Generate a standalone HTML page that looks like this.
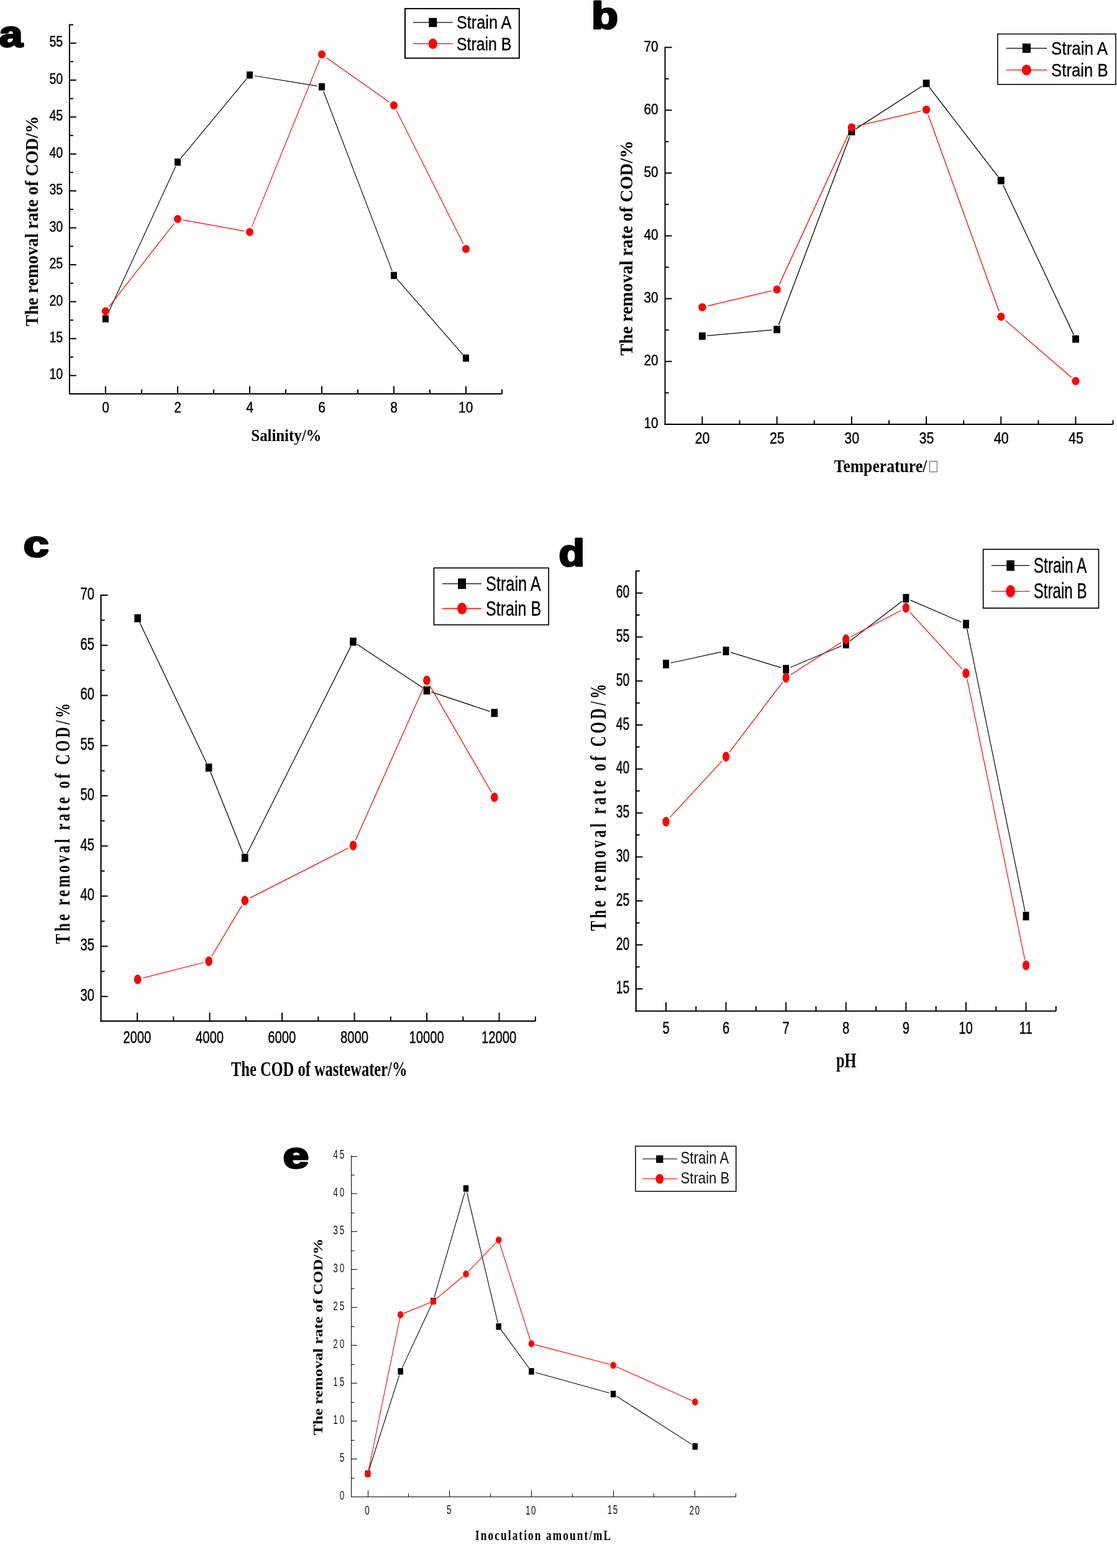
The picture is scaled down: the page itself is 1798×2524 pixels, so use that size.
<!DOCTYPE html>
<html><head><meta charset="utf-8"><title>COD removal rate figure</title><style>html,body{margin:0;padding:0;background:#fff}svg{display:block}</style></head>
<body><svg width="1798" height="2524" viewBox="0 0 1798 2524">
<rect width="1798" height="2524" fill="#fff"/>
<line x1="111.90" y1="39.00" x2="111.90" y2="635.00" stroke="#000" stroke-width="2"/>
<line x1="110.90" y1="634.00" x2="808.01" y2="634.00" stroke="#000" stroke-width="2"/>
<line x1="111.90" y1="604.50" x2="122.90" y2="604.50" stroke="#000" stroke-width="2"/>
<line x1="111.90" y1="545.06" x2="122.90" y2="545.06" stroke="#000" stroke-width="2"/>
<line x1="111.90" y1="485.61" x2="122.90" y2="485.61" stroke="#000" stroke-width="2"/>
<line x1="111.90" y1="426.17" x2="122.90" y2="426.17" stroke="#000" stroke-width="2"/>
<line x1="111.90" y1="366.72" x2="122.90" y2="366.72" stroke="#000" stroke-width="2"/>
<line x1="111.90" y1="307.28" x2="122.90" y2="307.28" stroke="#000" stroke-width="2"/>
<line x1="111.90" y1="247.83" x2="122.90" y2="247.83" stroke="#000" stroke-width="2"/>
<line x1="111.90" y1="188.39" x2="122.90" y2="188.39" stroke="#000" stroke-width="2"/>
<line x1="111.90" y1="128.94" x2="122.90" y2="128.94" stroke="#000" stroke-width="2"/>
<line x1="111.90" y1="69.50" x2="122.90" y2="69.50" stroke="#000" stroke-width="2"/>
<line x1="111.90" y1="574.78" x2="117.90" y2="574.78" stroke="#000" stroke-width="2"/>
<line x1="111.90" y1="515.33" x2="117.90" y2="515.33" stroke="#000" stroke-width="2"/>
<line x1="111.90" y1="455.89" x2="117.90" y2="455.89" stroke="#000" stroke-width="2"/>
<line x1="111.90" y1="396.44" x2="117.90" y2="396.44" stroke="#000" stroke-width="2"/>
<line x1="111.90" y1="337.00" x2="117.90" y2="337.00" stroke="#000" stroke-width="2"/>
<line x1="111.90" y1="277.56" x2="117.90" y2="277.56" stroke="#000" stroke-width="2"/>
<line x1="111.90" y1="218.11" x2="117.90" y2="218.11" stroke="#000" stroke-width="2"/>
<line x1="111.90" y1="158.67" x2="117.90" y2="158.67" stroke="#000" stroke-width="2"/>
<line x1="111.90" y1="99.22" x2="117.90" y2="99.22" stroke="#000" stroke-width="2"/>
<line x1="111.90" y1="39.78" x2="117.90" y2="39.78" stroke="#000" stroke-width="2"/>
<line x1="169.90" y1="634.00" x2="169.90" y2="621.70" stroke="#000" stroke-width="2"/>
<line x1="285.92" y1="634.00" x2="285.92" y2="621.70" stroke="#000" stroke-width="2"/>
<line x1="401.94" y1="634.00" x2="401.94" y2="621.70" stroke="#000" stroke-width="2"/>
<line x1="517.96" y1="634.00" x2="517.96" y2="621.70" stroke="#000" stroke-width="2"/>
<line x1="633.98" y1="634.00" x2="633.98" y2="621.70" stroke="#000" stroke-width="2"/>
<line x1="750.00" y1="634.00" x2="750.00" y2="621.70" stroke="#000" stroke-width="2"/>
<line x1="227.91" y1="634.00" x2="227.91" y2="627.00" stroke="#000" stroke-width="2"/>
<line x1="343.93" y1="634.00" x2="343.93" y2="627.00" stroke="#000" stroke-width="2"/>
<line x1="459.95" y1="634.00" x2="459.95" y2="627.00" stroke="#000" stroke-width="2"/>
<line x1="575.97" y1="634.00" x2="575.97" y2="627.00" stroke="#000" stroke-width="2"/>
<line x1="691.99" y1="634.00" x2="691.99" y2="627.00" stroke="#000" stroke-width="2"/>
<line x1="808.01" y1="634.00" x2="808.01" y2="627.00" stroke="#000" stroke-width="2"/>
<text transform="translate(79.43,610.46) scale(0.8185,1)" font-family='"Liberation Sans", Arial, Helvetica, sans-serif' font-weight="400" font-size="23.94" fill="#000" stroke="#000" stroke-width="0.45">10</text>
<text transform="translate(79.43,550.90) scale(0.8185,1)" font-family='"Liberation Sans", Arial, Helvetica, sans-serif' font-weight="400" font-size="23.94" fill="#000" stroke="#000" stroke-width="0.45">15</text>
<text transform="translate(79.43,491.57) scale(0.8185,1)" font-family='"Liberation Sans", Arial, Helvetica, sans-serif' font-weight="400" font-size="23.94" fill="#000" stroke="#000" stroke-width="0.45">20</text>
<text transform="translate(79.43,432.13) scale(0.8185,1)" font-family='"Liberation Sans", Arial, Helvetica, sans-serif' font-weight="400" font-size="23.94" fill="#000" stroke="#000" stroke-width="0.45">25</text>
<text transform="translate(79.43,372.68) scale(0.8185,1)" font-family='"Liberation Sans", Arial, Helvetica, sans-serif' font-weight="400" font-size="23.94" fill="#000" stroke="#000" stroke-width="0.45">30</text>
<text transform="translate(79.43,313.24) scale(0.8185,1)" font-family='"Liberation Sans", Arial, Helvetica, sans-serif' font-weight="400" font-size="23.94" fill="#000" stroke="#000" stroke-width="0.45">35</text>
<text transform="translate(79.43,253.79) scale(0.8185,1)" font-family='"Liberation Sans", Arial, Helvetica, sans-serif' font-weight="400" font-size="23.94" fill="#000" stroke="#000" stroke-width="0.45">40</text>
<text transform="translate(79.43,194.23) scale(0.8185,1)" font-family='"Liberation Sans", Arial, Helvetica, sans-serif' font-weight="400" font-size="23.94" fill="#000" stroke="#000" stroke-width="0.45">45</text>
<text transform="translate(79.43,134.91) scale(0.8185,1)" font-family='"Liberation Sans", Arial, Helvetica, sans-serif' font-weight="400" font-size="23.94" fill="#000" stroke="#000" stroke-width="0.45">50</text>
<text transform="translate(79.43,75.34) scale(0.8185,1)" font-family='"Liberation Sans", Arial, Helvetica, sans-serif' font-weight="400" font-size="23.94" fill="#000" stroke="#000" stroke-width="0.45">55</text>
<text transform="translate(164.17,664.27) scale(0.8914,1)" font-family='"Liberation Sans", Arial, Helvetica, sans-serif' font-weight="400" font-size="23.38" fill="#000" stroke="#000" stroke-width="0.45">0</text>
<text transform="translate(280.19,664.27) scale(0.8914,1)" font-family='"Liberation Sans", Arial, Helvetica, sans-serif' font-weight="400" font-size="23.38" fill="#000" stroke="#000" stroke-width="0.45">2</text>
<text transform="translate(396.26,664.03) scale(0.8914,1)" font-family='"Liberation Sans", Arial, Helvetica, sans-serif' font-weight="400" font-size="23.38" fill="#000" stroke="#000" stroke-width="0.45">4</text>
<text transform="translate(512.17,664.27) scale(0.8914,1)" font-family='"Liberation Sans", Arial, Helvetica, sans-serif' font-weight="400" font-size="23.38" fill="#000" stroke="#000" stroke-width="0.45">6</text>
<text transform="translate(628.19,664.27) scale(0.8914,1)" font-family='"Liberation Sans", Arial, Helvetica, sans-serif' font-weight="400" font-size="23.38" fill="#000" stroke="#000" stroke-width="0.45">8</text>
<text transform="translate(738.12,664.27) scale(0.8914,1)" font-family='"Liberation Sans", Arial, Helvetica, sans-serif' font-weight="400" font-size="23.38" fill="#000" stroke="#000" stroke-width="0.45">10</text>
<path d="M173.16,506.11L282.66,268.09M290.89,254.99L396.97,126.81M409.64,122.05L510.26,138.45M520.74,146.99L631.20,436.11M639.11,449.28L744.87,570.52" fill="none" stroke="#000" stroke-width="1.15"/>
<path d="M175.63,493.67L280.19,359.83M295.07,354.16L392.79,371.84M405.44,364.88L514.46,96.22M525.55,92.97L626.39,164.23M638.15,177.91L745.83,392.39" fill="none" stroke="#f00" stroke-width="1.15"/>
<rect x="164.90" y="507.45" width="10" height="11.5" fill="#000"/>
<rect x="280.92" y="255.25" width="10" height="11.5" fill="#000"/>
<rect x="396.94" y="115.05" width="10" height="11.5" fill="#000"/>
<rect x="512.96" y="133.95" width="10" height="11.5" fill="#000"/>
<rect x="628.98" y="437.65" width="10" height="11.5" fill="#000"/>
<rect x="745.00" y="570.65" width="10" height="11.5" fill="#000"/>
<ellipse cx="169.90" cy="501.00" rx="6.0" ry="6.5" fill="#f00"/>
<ellipse cx="285.92" cy="352.50" rx="6.0" ry="6.5" fill="#f00"/>
<ellipse cx="401.94" cy="373.50" rx="6.0" ry="6.5" fill="#f00"/>
<ellipse cx="517.96" cy="87.60" rx="6.0" ry="6.5" fill="#f00"/>
<ellipse cx="633.98" cy="169.60" rx="6.0" ry="6.5" fill="#f00"/>
<ellipse cx="750.00" cy="400.70" rx="6.0" ry="6.5" fill="#f00"/>
<rect x="652.00" y="13.90" width="183.80" height="79.70" fill="none" stroke="#000" stroke-width="2"/>
<line x1="665.00" y1="36.20" x2="728.70" y2="36.20" stroke="#000" stroke-width="1.3"/>
<rect x="690.30" y="28.90" width="13" height="14.6" fill="#000"/>
<text transform="translate(734.94,46.23) scale(0.8609,1)" font-family='"Liberation Sans", Arial, Helvetica, sans-serif' font-weight="400" font-size="29.37" fill="#000" stroke="#000" stroke-width="0.35">Strain A</text>
<line x1="665.00" y1="70.40" x2="728.70" y2="70.40" stroke="#f00" stroke-width="1.3"/>
<ellipse cx="696.80" cy="70.40" rx="7.1" ry="8.45" fill="#f00"/>
<text transform="translate(734.96,80.83) scale(0.8541,1)" font-family='"Liberation Sans", Arial, Helvetica, sans-serif' font-weight="400" font-size="29.08" fill="#000" stroke="#000" stroke-width="0.35">Strain B</text>
<text transform="translate(404.34,709.60) scale(0.8752,1)" font-family='"Liberation Serif", "Times New Roman", Times, serif' font-weight="700" font-size="28.35" fill="#000">Salinity/%</text>
<text transform="translate(60.90,525.32) rotate(-90) scale(0.9473,1)" font-family='"Liberation Serif", "Times New Roman", Times, serif' font-weight="700" font-size="29.31" fill="#000">The removal rate of COD/%</text>
<text transform="translate(-1.14,75.01) scale(1.1514,1)" font-family='"Liberation Sans", Arial, Helvetica, sans-serif' font-weight="700" font-size="59.09" fill="#000" stroke="#000" stroke-width="3.00" stroke-linejoin="round">a</text>
<line x1="1070.50" y1="75.30" x2="1070.50" y2="683.90" stroke="#000" stroke-width="2"/>
<line x1="1069.50" y1="682.90" x2="1791.61" y2="682.90" stroke="#000" stroke-width="2"/>
<line x1="1070.50" y1="682.90" x2="1081.50" y2="682.90" stroke="#000" stroke-width="2"/>
<line x1="1070.50" y1="581.80" x2="1081.50" y2="581.80" stroke="#000" stroke-width="2"/>
<line x1="1070.50" y1="480.70" x2="1081.50" y2="480.70" stroke="#000" stroke-width="2"/>
<line x1="1070.50" y1="379.60" x2="1081.50" y2="379.60" stroke="#000" stroke-width="2"/>
<line x1="1070.50" y1="278.50" x2="1081.50" y2="278.50" stroke="#000" stroke-width="2"/>
<line x1="1070.50" y1="177.40" x2="1081.50" y2="177.40" stroke="#000" stroke-width="2"/>
<line x1="1070.50" y1="76.30" x2="1081.50" y2="76.30" stroke="#000" stroke-width="2"/>
<line x1="1070.50" y1="632.35" x2="1076.50" y2="632.35" stroke="#000" stroke-width="2"/>
<line x1="1070.50" y1="531.25" x2="1076.50" y2="531.25" stroke="#000" stroke-width="2"/>
<line x1="1070.50" y1="430.15" x2="1076.50" y2="430.15" stroke="#000" stroke-width="2"/>
<line x1="1070.50" y1="329.05" x2="1076.50" y2="329.05" stroke="#000" stroke-width="2"/>
<line x1="1070.50" y1="227.95" x2="1076.50" y2="227.95" stroke="#000" stroke-width="2"/>
<line x1="1070.50" y1="126.85" x2="1076.50" y2="126.85" stroke="#000" stroke-width="2"/>
<line x1="1130.40" y1="682.90" x2="1130.40" y2="670.30" stroke="#000" stroke-width="2"/>
<line x1="1250.62" y1="682.90" x2="1250.62" y2="670.30" stroke="#000" stroke-width="2"/>
<line x1="1370.84" y1="682.90" x2="1370.84" y2="670.30" stroke="#000" stroke-width="2"/>
<line x1="1491.06" y1="682.90" x2="1491.06" y2="670.30" stroke="#000" stroke-width="2"/>
<line x1="1611.28" y1="682.90" x2="1611.28" y2="670.30" stroke="#000" stroke-width="2"/>
<line x1="1731.50" y1="682.90" x2="1731.50" y2="670.30" stroke="#000" stroke-width="2"/>
<line x1="1190.51" y1="682.90" x2="1190.51" y2="676.40" stroke="#000" stroke-width="2"/>
<line x1="1310.73" y1="682.90" x2="1310.73" y2="676.40" stroke="#000" stroke-width="2"/>
<line x1="1430.95" y1="682.90" x2="1430.95" y2="676.40" stroke="#000" stroke-width="2"/>
<line x1="1551.17" y1="682.90" x2="1551.17" y2="676.40" stroke="#000" stroke-width="2"/>
<line x1="1671.39" y1="682.90" x2="1671.39" y2="676.40" stroke="#000" stroke-width="2"/>
<line x1="1791.61" y1="682.90" x2="1791.61" y2="676.40" stroke="#000" stroke-width="2"/>
<text transform="translate(1036.54,689.35) scale(0.8489,1)" font-family='"Liberation Sans", Arial, Helvetica, sans-serif' font-weight="400" font-size="24.51" fill="#000" stroke="#000" stroke-width="0.45">10</text>
<text transform="translate(1036.54,588.25) scale(0.8489,1)" font-family='"Liberation Sans", Arial, Helvetica, sans-serif' font-weight="400" font-size="24.51" fill="#000" stroke="#000" stroke-width="0.45">20</text>
<text transform="translate(1036.54,487.15) scale(0.8489,1)" font-family='"Liberation Sans", Arial, Helvetica, sans-serif' font-weight="400" font-size="24.51" fill="#000" stroke="#000" stroke-width="0.45">30</text>
<text transform="translate(1036.54,386.05) scale(0.8489,1)" font-family='"Liberation Sans", Arial, Helvetica, sans-serif' font-weight="400" font-size="24.51" fill="#000" stroke="#000" stroke-width="0.45">40</text>
<text transform="translate(1036.54,284.95) scale(0.8489,1)" font-family='"Liberation Sans", Arial, Helvetica, sans-serif' font-weight="400" font-size="24.51" fill="#000" stroke="#000" stroke-width="0.45">50</text>
<text transform="translate(1036.54,183.85) scale(0.8489,1)" font-family='"Liberation Sans", Arial, Helvetica, sans-serif' font-weight="400" font-size="24.51" fill="#000" stroke="#000" stroke-width="0.45">60</text>
<text transform="translate(1036.54,82.75) scale(0.8489,1)" font-family='"Liberation Sans", Arial, Helvetica, sans-serif' font-weight="400" font-size="24.51" fill="#000" stroke="#000" stroke-width="0.45">70</text>
<text transform="translate(1118.73,714.45) scale(0.8573,1)" font-family='"Liberation Sans", Arial, Helvetica, sans-serif' font-weight="400" font-size="24.93" fill="#000" stroke="#000" stroke-width="0.45">20</text>
<text transform="translate(1238.95,714.45) scale(0.8573,1)" font-family='"Liberation Sans", Arial, Helvetica, sans-serif' font-weight="400" font-size="24.93" fill="#000" stroke="#000" stroke-width="0.45">25</text>
<text transform="translate(1359.28,714.45) scale(0.8573,1)" font-family='"Liberation Sans", Arial, Helvetica, sans-serif' font-weight="400" font-size="24.93" fill="#000" stroke="#000" stroke-width="0.45">30</text>
<text transform="translate(1479.50,714.45) scale(0.8573,1)" font-family='"Liberation Sans", Arial, Helvetica, sans-serif' font-weight="400" font-size="24.93" fill="#000" stroke="#000" stroke-width="0.45">35</text>
<text transform="translate(1599.88,714.45) scale(0.8573,1)" font-family='"Liberation Sans", Arial, Helvetica, sans-serif' font-weight="400" font-size="24.93" fill="#000" stroke="#000" stroke-width="0.45">40</text>
<text transform="translate(1720.10,714.20) scale(0.8573,1)" font-family='"Liberation Sans", Arial, Helvetica, sans-serif' font-weight="400" font-size="24.93" fill="#000" stroke="#000" stroke-width="0.45">45</text>
<path d="M1138.17,540.31L1242.85,531.09M1253.37,523.10L1368.09,219.20M1377.39,207.67L1484.51,138.43M1495.81,140.38L1606.53,284.42M1614.61,297.66L1728.17,538.64" fill="none" stroke="#000" stroke-width="1.3"/>
<path d="M1139.45,492.35L1241.57,468.15M1254.51,457.55L1366.95,213.45M1379.89,202.85L1482.01,178.65M1494.22,185.25L1608.12,501.05M1618.33,515.87L1724.45,607.33" fill="none" stroke="#f00" stroke-width="1.3"/>
<rect x="1124.95" y="535.05" width="10.9" height="11.9" fill="#000"/>
<rect x="1245.17" y="524.45" width="10.9" height="11.9" fill="#000"/>
<rect x="1365.39" y="205.95" width="10.9" height="11.9" fill="#000"/>
<rect x="1485.61" y="128.25" width="10.9" height="11.9" fill="#000"/>
<rect x="1605.83" y="284.65" width="10.9" height="11.9" fill="#000"/>
<rect x="1726.05" y="539.75" width="10.9" height="11.9" fill="#000"/>
<ellipse cx="1130.40" cy="494.50" rx="6.15" ry="6.6" fill="#f00"/>
<ellipse cx="1250.62" cy="466.00" rx="6.15" ry="6.6" fill="#f00"/>
<ellipse cx="1370.84" cy="205.00" rx="6.15" ry="6.6" fill="#f00"/>
<ellipse cx="1491.06" cy="176.50" rx="6.15" ry="6.6" fill="#f00"/>
<ellipse cx="1611.28" cy="509.80" rx="6.15" ry="6.6" fill="#f00"/>
<ellipse cx="1731.50" cy="613.40" rx="6.15" ry="6.6" fill="#f00"/>
<rect x="1605.90" y="54.70" width="190.10" height="81.20" fill="none" stroke="#000" stroke-width="1.6"/>
<line x1="1619.60" y1="77.60" x2="1685.40" y2="77.60" stroke="#000" stroke-width="1.3"/>
<rect x="1645.80" y="70.10" width="13.2" height="15" fill="#000"/>
<text transform="translate(1692.10,87.64) scale(0.8985,1)" font-family='"Liberation Sans", Arial, Helvetica, sans-serif' font-weight="400" font-size="28.94" fill="#000" stroke="#000" stroke-width="0.35">Strain A</text>
<line x1="1619.60" y1="112.60" x2="1685.40" y2="112.60" stroke="#f00" stroke-width="1.3"/>
<ellipse cx="1652.40" cy="112.60" rx="7.55" ry="8.65" fill="#f00"/>
<text transform="translate(1692.12,122.74) scale(0.8892,1)" font-family='"Liberation Sans", Arial, Helvetica, sans-serif' font-weight="400" font-size="28.94" fill="#000" stroke="#000" stroke-width="0.35">Strain B</text>
<text transform="translate(1342.62,760.11) scale(0.8501,1)" font-family='"Liberation Serif", "Times New Roman", Times, serif' font-weight="700" font-size="30.17" fill="#000">Temperature/</text>
<text transform="translate(1017.90,572.43) rotate(-90) scale(0.9341,1)" font-family='"Liberation Serif", "Times New Roman", Times, serif' font-weight="700" font-size="30.38" fill="#000">The removal rate of COD/%</text>
<text transform="translate(952.03,46.29) scale(1.1611,1)" font-family='"Liberation Sans", Arial, Helvetica, sans-serif' font-weight="700" font-size="60.54" fill="#000" stroke="#000" stroke-width="3.00" stroke-linejoin="round">b</text>
<line x1="162.50" y1="957.00" x2="162.50" y2="1644.80" stroke="#000" stroke-width="2.2"/>
<line x1="161.40" y1="1643.70" x2="861.86" y2="1643.70" stroke="#000" stroke-width="2.2"/>
<line x1="162.50" y1="1604.00" x2="173.50" y2="1604.00" stroke="#000" stroke-width="2"/>
<line x1="162.50" y1="1523.25" x2="173.50" y2="1523.25" stroke="#000" stroke-width="2"/>
<line x1="162.50" y1="1442.50" x2="173.50" y2="1442.50" stroke="#000" stroke-width="2"/>
<line x1="162.50" y1="1361.75" x2="173.50" y2="1361.75" stroke="#000" stroke-width="2"/>
<line x1="162.50" y1="1281.00" x2="173.50" y2="1281.00" stroke="#000" stroke-width="2"/>
<line x1="162.50" y1="1200.25" x2="173.50" y2="1200.25" stroke="#000" stroke-width="2"/>
<line x1="162.50" y1="1119.50" x2="173.50" y2="1119.50" stroke="#000" stroke-width="2"/>
<line x1="162.50" y1="1038.75" x2="173.50" y2="1038.75" stroke="#000" stroke-width="2"/>
<line x1="162.50" y1="958.00" x2="173.50" y2="958.00" stroke="#000" stroke-width="2"/>
<line x1="162.50" y1="1563.62" x2="168.50" y2="1563.62" stroke="#000" stroke-width="2"/>
<line x1="162.50" y1="1482.88" x2="168.50" y2="1482.88" stroke="#000" stroke-width="2"/>
<line x1="162.50" y1="1402.12" x2="168.50" y2="1402.12" stroke="#000" stroke-width="2"/>
<line x1="162.50" y1="1321.38" x2="168.50" y2="1321.38" stroke="#000" stroke-width="2"/>
<line x1="162.50" y1="1240.62" x2="168.50" y2="1240.62" stroke="#000" stroke-width="2"/>
<line x1="162.50" y1="1159.88" x2="168.50" y2="1159.88" stroke="#000" stroke-width="2"/>
<line x1="162.50" y1="1079.12" x2="168.50" y2="1079.12" stroke="#000" stroke-width="2"/>
<line x1="162.50" y1="998.38" x2="168.50" y2="998.38" stroke="#000" stroke-width="2"/>
<line x1="221.00" y1="1643.70" x2="221.00" y2="1630.00" stroke="#000" stroke-width="2"/>
<line x1="337.52" y1="1643.70" x2="337.52" y2="1630.00" stroke="#000" stroke-width="2"/>
<line x1="454.04" y1="1643.70" x2="454.04" y2="1630.00" stroke="#000" stroke-width="2"/>
<line x1="570.56" y1="1643.70" x2="570.56" y2="1630.00" stroke="#000" stroke-width="2"/>
<line x1="687.08" y1="1643.70" x2="687.08" y2="1630.00" stroke="#000" stroke-width="2"/>
<line x1="803.60" y1="1643.70" x2="803.60" y2="1630.00" stroke="#000" stroke-width="2"/>
<line x1="279.26" y1="1643.70" x2="279.26" y2="1636.20" stroke="#000" stroke-width="2"/>
<line x1="395.78" y1="1643.70" x2="395.78" y2="1636.20" stroke="#000" stroke-width="2"/>
<line x1="512.30" y1="1643.70" x2="512.30" y2="1636.20" stroke="#000" stroke-width="2"/>
<line x1="628.82" y1="1643.70" x2="628.82" y2="1636.20" stroke="#000" stroke-width="2"/>
<line x1="745.34" y1="1643.70" x2="745.34" y2="1636.20" stroke="#000" stroke-width="2"/>
<line x1="861.86" y1="1643.70" x2="861.86" y2="1636.20" stroke="#000" stroke-width="2"/>
<text transform="translate(129.18,1610.93) scale(0.7497,1)" font-family='"Liberation Sans", Arial, Helvetica, sans-serif' font-weight="400" font-size="27.32" fill="#000" stroke="#000" stroke-width="0.45">30</text>
<text transform="translate(129.18,1530.18) scale(0.7497,1)" font-family='"Liberation Sans", Arial, Helvetica, sans-serif' font-weight="400" font-size="27.32" fill="#000" stroke="#000" stroke-width="0.45">35</text>
<text transform="translate(129.18,1449.43) scale(0.7497,1)" font-family='"Liberation Sans", Arial, Helvetica, sans-serif' font-weight="400" font-size="27.32" fill="#000" stroke="#000" stroke-width="0.45">40</text>
<text transform="translate(129.18,1368.54) scale(0.7497,1)" font-family='"Liberation Sans", Arial, Helvetica, sans-serif' font-weight="400" font-size="27.32" fill="#000" stroke="#000" stroke-width="0.45">45</text>
<text transform="translate(129.18,1287.93) scale(0.7497,1)" font-family='"Liberation Sans", Arial, Helvetica, sans-serif' font-weight="400" font-size="27.32" fill="#000" stroke="#000" stroke-width="0.45">50</text>
<text transform="translate(129.18,1207.04) scale(0.7497,1)" font-family='"Liberation Sans", Arial, Helvetica, sans-serif' font-weight="400" font-size="27.32" fill="#000" stroke="#000" stroke-width="0.45">55</text>
<text transform="translate(129.18,1126.43) scale(0.7497,1)" font-family='"Liberation Sans", Arial, Helvetica, sans-serif' font-weight="400" font-size="27.32" fill="#000" stroke="#000" stroke-width="0.45">60</text>
<text transform="translate(129.18,1045.68) scale(0.7497,1)" font-family='"Liberation Sans", Arial, Helvetica, sans-serif' font-weight="400" font-size="27.32" fill="#000" stroke="#000" stroke-width="0.45">65</text>
<text transform="translate(129.18,964.93) scale(0.7497,1)" font-family='"Liberation Sans", Arial, Helvetica, sans-serif' font-weight="400" font-size="27.32" fill="#000" stroke="#000" stroke-width="0.45">70</text>
<text transform="translate(198.29,1679.23) scale(0.7367,1)" font-family='"Liberation Sans", Arial, Helvetica, sans-serif' font-weight="400" font-size="27.46" fill="#000" stroke="#000" stroke-width="0.45">2000</text>
<text transform="translate(315.06,1679.23) scale(0.7367,1)" font-family='"Liberation Sans", Arial, Helvetica, sans-serif' font-weight="400" font-size="27.46" fill="#000" stroke="#000" stroke-width="0.45">4000</text>
<text transform="translate(431.33,1679.23) scale(0.7367,1)" font-family='"Liberation Sans", Arial, Helvetica, sans-serif' font-weight="400" font-size="27.46" fill="#000" stroke="#000" stroke-width="0.45">6000</text>
<text transform="translate(547.90,1679.23) scale(0.7367,1)" font-family='"Liberation Sans", Arial, Helvetica, sans-serif' font-weight="400" font-size="27.46" fill="#000" stroke="#000" stroke-width="0.45">8000</text>
<text transform="translate(658.50,1679.23) scale(0.7367,1)" font-family='"Liberation Sans", Arial, Helvetica, sans-serif' font-weight="400" font-size="27.46" fill="#000" stroke="#000" stroke-width="0.45">10000</text>
<text transform="translate(775.02,1679.23) scale(0.7367,1)" font-family='"Liberation Sans", Arial, Helvetica, sans-serif' font-weight="400" font-size="27.46" fill="#000" stroke="#000" stroke-width="0.45">12000</text>
<path d="M224.94,1002.24L332.71,1228.66M338.96,1242.94L391.31,1373.66M397.70,1373.93L564.97,1039.87M574.97,1037.21L680.46,1107.09M694.36,1113.86L788.39,1145.14" fill="none" stroke="#000" stroke-width="1.25"/>
<path d="M230.59,1574.19L327.05,1549.51M340.82,1539.21L389.45,1457.59M402.50,1445.38L560.17,1365.22M572.25,1352.51L683.18,1103.59M691.62,1103.15L791.14,1275.35" fill="none" stroke="#f00" stroke-width="1.25"/>
<rect x="216.28" y="988.70" width="10.6" height="13" fill="#000"/>
<rect x="330.76" y="1229.20" width="10.6" height="13" fill="#000"/>
<rect x="388.91" y="1374.40" width="10.6" height="13" fill="#000"/>
<rect x="563.16" y="1026.40" width="10.6" height="13" fill="#000"/>
<rect x="681.66" y="1104.90" width="10.6" height="13" fill="#000"/>
<rect x="790.49" y="1141.10" width="10.6" height="13" fill="#000"/>
<ellipse cx="221.58" cy="1576.50" rx="5.8" ry="7.7" fill="#f00"/>
<ellipse cx="336.06" cy="1547.20" rx="5.8" ry="7.7" fill="#f00"/>
<ellipse cx="394.21" cy="1449.60" rx="5.8" ry="7.7" fill="#f00"/>
<ellipse cx="568.46" cy="1361.00" rx="5.8" ry="7.7" fill="#f00"/>
<ellipse cx="686.96" cy="1095.10" rx="5.8" ry="7.7" fill="#f00"/>
<ellipse cx="795.79" cy="1283.40" rx="5.8" ry="7.7" fill="#f00"/>
<rect x="698.45" y="914.25" width="184.70" height="91.50" fill="none" stroke="#000" stroke-width="1.7"/>
<line x1="711.90" y1="939.60" x2="775.20" y2="939.60" stroke="#000" stroke-width="1.3"/>
<rect x="737.15" y="931.15" width="12.9" height="16.9" fill="#000"/>
<text transform="translate(782.04,951.28) scale(0.7411,1)" font-family='"Liberation Sans", Arial, Helvetica, sans-serif' font-weight="400" font-size="34.15" fill="#000" stroke="#000" stroke-width="0.35">Strain A</text>
<line x1="711.90" y1="979.50" x2="775.20" y2="979.50" stroke="#f00" stroke-width="1.3"/>
<ellipse cx="743.60" cy="979.50" rx="7.55" ry="9.55" fill="#f00"/>
<text transform="translate(782.05,990.69) scale(0.7518,1)" font-family='"Liberation Sans", Arial, Helvetica, sans-serif' font-weight="400" font-size="33.31" fill="#000" stroke="#000" stroke-width="0.35">Strain B</text>
<text transform="translate(372.03,1731.71) scale(0.7432,1)" font-family='"Liberation Serif", "Times New Roman", Times, serif' font-weight="700" font-size="32.92" fill="#000">The COD of wastewater/%</text>
<text transform="translate(111.60,1519.16) rotate(-90) scale(0.6988,1)" font-family='"Liberation Serif", "Times New Roman", Times, serif' font-weight="700" font-size="34.05" fill="#000" letter-spacing="5.79">The removal rate of COD/%</text>
<text transform="translate(37.66,895.81) scale(1.2534,1)" font-family='"Liberation Sans", Arial, Helvetica, sans-serif' font-weight="700" font-size="58.73" fill="#000" stroke="#000" stroke-width="3.00" stroke-linejoin="round">c</text>
<line x1="1023.70" y1="918.50" x2="1023.70" y2="1628.60" stroke="#000" stroke-width="2.2"/>
<line x1="1022.60" y1="1627.50" x2="1699.79" y2="1627.50" stroke="#000" stroke-width="2.2"/>
<line x1="1023.70" y1="1591.80" x2="1034.50" y2="1591.80" stroke="#000" stroke-width="2"/>
<line x1="1023.70" y1="1521.00" x2="1034.50" y2="1521.00" stroke="#000" stroke-width="2"/>
<line x1="1023.70" y1="1450.20" x2="1034.50" y2="1450.20" stroke="#000" stroke-width="2"/>
<line x1="1023.70" y1="1379.40" x2="1034.50" y2="1379.40" stroke="#000" stroke-width="2"/>
<line x1="1023.70" y1="1308.60" x2="1034.50" y2="1308.60" stroke="#000" stroke-width="2"/>
<line x1="1023.70" y1="1237.80" x2="1034.50" y2="1237.80" stroke="#000" stroke-width="2"/>
<line x1="1023.70" y1="1167.00" x2="1034.50" y2="1167.00" stroke="#000" stroke-width="2"/>
<line x1="1023.70" y1="1096.20" x2="1034.50" y2="1096.20" stroke="#000" stroke-width="2"/>
<line x1="1023.70" y1="1025.40" x2="1034.50" y2="1025.40" stroke="#000" stroke-width="2"/>
<line x1="1023.70" y1="954.60" x2="1034.50" y2="954.60" stroke="#000" stroke-width="2"/>
<line x1="1023.70" y1="1556.40" x2="1029.70" y2="1556.40" stroke="#000" stroke-width="2"/>
<line x1="1023.70" y1="1485.60" x2="1029.70" y2="1485.60" stroke="#000" stroke-width="2"/>
<line x1="1023.70" y1="1414.80" x2="1029.70" y2="1414.80" stroke="#000" stroke-width="2"/>
<line x1="1023.70" y1="1344.00" x2="1029.70" y2="1344.00" stroke="#000" stroke-width="2"/>
<line x1="1023.70" y1="1273.20" x2="1029.70" y2="1273.20" stroke="#000" stroke-width="2"/>
<line x1="1023.70" y1="1202.40" x2="1029.70" y2="1202.40" stroke="#000" stroke-width="2"/>
<line x1="1023.70" y1="1131.60" x2="1029.70" y2="1131.60" stroke="#000" stroke-width="2"/>
<line x1="1023.70" y1="1060.80" x2="1029.70" y2="1060.80" stroke="#000" stroke-width="2"/>
<line x1="1023.70" y1="990.00" x2="1029.70" y2="990.00" stroke="#000" stroke-width="2"/>
<line x1="1023.70" y1="919.20" x2="1029.70" y2="919.20" stroke="#000" stroke-width="2"/>
<line x1="1072.00" y1="1627.50" x2="1072.00" y2="1613.20" stroke="#000" stroke-width="2"/>
<line x1="1168.58" y1="1627.50" x2="1168.58" y2="1613.20" stroke="#000" stroke-width="2"/>
<line x1="1265.17" y1="1627.50" x2="1265.17" y2="1613.20" stroke="#000" stroke-width="2"/>
<line x1="1361.75" y1="1627.50" x2="1361.75" y2="1613.20" stroke="#000" stroke-width="2"/>
<line x1="1458.33" y1="1627.50" x2="1458.33" y2="1613.20" stroke="#000" stroke-width="2"/>
<line x1="1554.92" y1="1627.50" x2="1554.92" y2="1613.20" stroke="#000" stroke-width="2"/>
<line x1="1651.50" y1="1627.50" x2="1651.50" y2="1613.20" stroke="#000" stroke-width="2"/>
<line x1="1120.29" y1="1627.50" x2="1120.29" y2="1620.00" stroke="#000" stroke-width="2"/>
<line x1="1216.88" y1="1627.50" x2="1216.88" y2="1620.00" stroke="#000" stroke-width="2"/>
<line x1="1313.46" y1="1627.50" x2="1313.46" y2="1620.00" stroke="#000" stroke-width="2"/>
<line x1="1410.04" y1="1627.50" x2="1410.04" y2="1620.00" stroke="#000" stroke-width="2"/>
<line x1="1506.62" y1="1627.50" x2="1506.62" y2="1620.00" stroke="#000" stroke-width="2"/>
<line x1="1603.21" y1="1627.50" x2="1603.21" y2="1620.00" stroke="#000" stroke-width="2"/>
<line x1="1699.79" y1="1627.50" x2="1699.79" y2="1620.00" stroke="#000" stroke-width="2"/>
<text transform="translate(991.85,1599.31) scale(0.6621,1)" font-family='"Liberation Sans", Arial, Helvetica, sans-serif' font-weight="400" font-size="29.14" fill="#000" stroke="#000" stroke-width="0.45">15</text>
<text transform="translate(991.85,1528.65) scale(0.6621,1)" font-family='"Liberation Sans", Arial, Helvetica, sans-serif' font-weight="400" font-size="29.14" fill="#000" stroke="#000" stroke-width="0.45">20</text>
<text transform="translate(991.85,1457.85) scale(0.6621,1)" font-family='"Liberation Sans", Arial, Helvetica, sans-serif' font-weight="400" font-size="29.14" fill="#000" stroke="#000" stroke-width="0.45">25</text>
<text transform="translate(991.85,1387.05) scale(0.6621,1)" font-family='"Liberation Sans", Arial, Helvetica, sans-serif' font-weight="400" font-size="29.14" fill="#000" stroke="#000" stroke-width="0.45">30</text>
<text transform="translate(991.85,1316.25) scale(0.6621,1)" font-family='"Liberation Sans", Arial, Helvetica, sans-serif' font-weight="400" font-size="29.14" fill="#000" stroke="#000" stroke-width="0.45">35</text>
<text transform="translate(991.85,1245.45) scale(0.6621,1)" font-family='"Liberation Sans", Arial, Helvetica, sans-serif' font-weight="400" font-size="29.14" fill="#000" stroke="#000" stroke-width="0.45">40</text>
<text transform="translate(991.85,1174.51) scale(0.6621,1)" font-family='"Liberation Sans", Arial, Helvetica, sans-serif' font-weight="400" font-size="29.14" fill="#000" stroke="#000" stroke-width="0.45">45</text>
<text transform="translate(991.85,1103.85) scale(0.6621,1)" font-family='"Liberation Sans", Arial, Helvetica, sans-serif' font-weight="400" font-size="29.14" fill="#000" stroke="#000" stroke-width="0.45">50</text>
<text transform="translate(991.85,1032.91) scale(0.6621,1)" font-family='"Liberation Sans", Arial, Helvetica, sans-serif' font-weight="400" font-size="29.14" fill="#000" stroke="#000" stroke-width="0.45">55</text>
<text transform="translate(991.85,962.25) scale(0.6621,1)" font-family='"Liberation Sans", Arial, Helvetica, sans-serif' font-weight="400" font-size="29.14" fill="#000" stroke="#000" stroke-width="0.45">60</text>
<text transform="translate(1066.39,1663.52) scale(0.7109,1)" font-family='"Liberation Sans", Arial, Helvetica, sans-serif' font-weight="400" font-size="28.43" fill="#000" stroke="#000" stroke-width="0.45">5</text>
<text transform="translate(1162.92,1663.80) scale(0.7109,1)" font-family='"Liberation Sans", Arial, Helvetica, sans-serif' font-weight="400" font-size="28.43" fill="#000" stroke="#000" stroke-width="0.45">6</text>
<text transform="translate(1259.56,1663.52) scale(0.7109,1)" font-family='"Liberation Sans", Arial, Helvetica, sans-serif' font-weight="400" font-size="28.43" fill="#000" stroke="#000" stroke-width="0.45">7</text>
<text transform="translate(1356.09,1663.80) scale(0.7109,1)" font-family='"Liberation Sans", Arial, Helvetica, sans-serif' font-weight="400" font-size="28.43" fill="#000" stroke="#000" stroke-width="0.45">8</text>
<text transform="translate(1452.72,1663.80) scale(0.7109,1)" font-family='"Liberation Sans", Arial, Helvetica, sans-serif' font-weight="400" font-size="28.43" fill="#000" stroke="#000" stroke-width="0.45">9</text>
<text transform="translate(1543.35,1663.80) scale(0.7109,1)" font-family='"Liberation Sans", Arial, Helvetica, sans-serif' font-weight="400" font-size="28.43" fill="#000" stroke="#000" stroke-width="0.45">10</text>
<text transform="translate(1640.79,1663.52) scale(0.7109,1)" font-family='"Liberation Sans", Arial, Helvetica, sans-serif' font-weight="400" font-size="28.43" fill="#000" stroke="#000" stroke-width="0.45">11</text>
<path d="M1079.62,1067.24L1160.96,1049.46M1176.05,1050.07L1257.70,1074.93M1272.36,1074.18L1354.56,1039.72M1367.95,1031.97L1452.13,967.73M1465.50,966.09L1547.75,1001.51M1556.49,1012.24L1649.93,1466.96" fill="none" stroke="#000" stroke-width="1.2"/>
<path d="M1078.31,1315.86L1162.28,1224.84M1174.21,1210.60L1259.54,1098.40M1272.99,1085.98L1353.92,1034.02M1369.99,1024.69L1450.09,982.81M1464.62,985.35L1548.63,1076.95M1556.79,1092.91L1649.63,1544.69" fill="none" stroke="#f00" stroke-width="1.2"/>
<rect x="1067.05" y="1062.00" width="9.9" height="13.8" fill="#000"/>
<rect x="1163.63" y="1040.90" width="9.9" height="13.8" fill="#000"/>
<rect x="1260.22" y="1070.30" width="9.9" height="13.8" fill="#000"/>
<rect x="1356.80" y="1029.80" width="9.9" height="13.8" fill="#000"/>
<rect x="1453.38" y="956.10" width="9.9" height="13.8" fill="#000"/>
<rect x="1549.97" y="997.70" width="9.9" height="13.8" fill="#000"/>
<rect x="1646.55" y="1467.70" width="9.9" height="13.8" fill="#000"/>
<ellipse cx="1072.00" cy="1322.70" rx="5.6" ry="7.9" fill="#f00"/>
<ellipse cx="1168.58" cy="1218.00" rx="5.6" ry="7.9" fill="#f00"/>
<ellipse cx="1265.17" cy="1091.00" rx="5.6" ry="7.9" fill="#f00"/>
<ellipse cx="1361.75" cy="1029.00" rx="5.6" ry="7.9" fill="#f00"/>
<ellipse cx="1458.33" cy="978.50" rx="5.6" ry="7.9" fill="#f00"/>
<ellipse cx="1554.92" cy="1083.80" rx="5.6" ry="7.9" fill="#f00"/>
<ellipse cx="1651.50" cy="1553.80" rx="5.6" ry="7.9" fill="#f00"/>
<rect x="1582.65" y="884.25" width="185.80" height="94.60" fill="none" stroke="#000" stroke-width="1.7"/>
<line x1="1595.90" y1="910.40" x2="1657.30" y2="910.40" stroke="#000" stroke-width="1.3"/>
<rect x="1620.30" y="901.90" width="12.6" height="17" fill="#000"/>
<text transform="translate(1663.77,922.28) scale(0.7049,1)" font-family='"Liberation Sans", Arial, Helvetica, sans-serif' font-weight="400" font-size="34.72" fill="#000" stroke="#000" stroke-width="0.35">Strain A</text>
<line x1="1595.90" y1="951.80" x2="1657.30" y2="951.80" stroke="#f00" stroke-width="1.3"/>
<ellipse cx="1626.60" cy="951.80" rx="7.4" ry="9.95" fill="#f00"/>
<text transform="translate(1663.79,963.38) scale(0.6967,1)" font-family='"Liberation Sans", Arial, Helvetica, sans-serif' font-weight="400" font-size="34.58" fill="#000" stroke="#000" stroke-width="0.35">Strain B</text>
<text transform="translate(1345.94,1717.59) scale(0.7049,1)" font-family='"Liberation Serif", "Times New Roman", Times, serif' font-weight="700" font-size="34.48" fill="#000">pH</text>
<text transform="translate(974.80,1498.26) rotate(-90) scale(0.6780,1)" font-family='"Liberation Serif", "Times New Roman", Times, serif' font-weight="700" font-size="34.96" fill="#000" letter-spacing="6.64">The removal rate of COD/%</text>
<text transform="translate(899.48,910.79) scale(1.1118,1)" font-family='"Liberation Sans", Arial, Helvetica, sans-serif' font-weight="700" font-size="61.09" fill="#000" stroke="#000" stroke-width="3.00" stroke-linejoin="round">d</text>
<line x1="565.50" y1="1860.00" x2="565.50" y2="2410.00" stroke="#000" stroke-width="1"/>
<line x1="565.10" y1="2409.50" x2="1184.65" y2="2409.50" stroke="#000" stroke-width="1"/>
<line x1="565.60" y1="2409.50" x2="574.90" y2="2409.50" stroke="#000" stroke-width="1"/>
<line x1="565.60" y1="2348.50" x2="574.90" y2="2348.50" stroke="#000" stroke-width="1"/>
<line x1="565.60" y1="2287.50" x2="574.90" y2="2287.50" stroke="#000" stroke-width="1"/>
<line x1="565.60" y1="2226.50" x2="574.90" y2="2226.50" stroke="#000" stroke-width="1"/>
<line x1="565.60" y1="2165.50" x2="574.90" y2="2165.50" stroke="#000" stroke-width="1"/>
<line x1="565.60" y1="2104.50" x2="574.90" y2="2104.50" stroke="#000" stroke-width="1"/>
<line x1="565.60" y1="2043.50" x2="574.90" y2="2043.50" stroke="#000" stroke-width="1"/>
<line x1="565.60" y1="1982.50" x2="574.90" y2="1982.50" stroke="#000" stroke-width="1"/>
<line x1="565.60" y1="1921.50" x2="574.90" y2="1921.50" stroke="#000" stroke-width="1"/>
<line x1="565.60" y1="1861.50" x2="574.90" y2="1861.50" stroke="#000" stroke-width="1"/>
<line x1="565.60" y1="2379.50" x2="570.60" y2="2379.50" stroke="#000" stroke-width="1"/>
<line x1="565.60" y1="2318.50" x2="570.60" y2="2318.50" stroke="#000" stroke-width="1"/>
<line x1="565.60" y1="2257.50" x2="570.60" y2="2257.50" stroke="#000" stroke-width="1"/>
<line x1="565.60" y1="2196.50" x2="570.60" y2="2196.50" stroke="#000" stroke-width="1"/>
<line x1="565.60" y1="2135.50" x2="570.60" y2="2135.50" stroke="#000" stroke-width="1"/>
<line x1="565.60" y1="2074.50" x2="570.60" y2="2074.50" stroke="#000" stroke-width="1"/>
<line x1="565.60" y1="2013.50" x2="570.60" y2="2013.50" stroke="#000" stroke-width="1"/>
<line x1="565.60" y1="1952.50" x2="570.60" y2="1952.50" stroke="#000" stroke-width="1"/>
<line x1="565.60" y1="1891.50" x2="570.60" y2="1891.50" stroke="#000" stroke-width="1"/>
<line x1="592.50" y1="2409.50" x2="592.50" y2="2399.20" stroke="#000" stroke-width="1"/>
<line x1="723.50" y1="2409.50" x2="723.50" y2="2399.20" stroke="#000" stroke-width="1"/>
<line x1="855.50" y1="2409.50" x2="855.50" y2="2399.20" stroke="#000" stroke-width="1"/>
<line x1="987.50" y1="2409.50" x2="987.50" y2="2399.20" stroke="#000" stroke-width="1"/>
<line x1="1118.50" y1="2409.50" x2="1118.50" y2="2399.20" stroke="#000" stroke-width="1"/>
<line x1="657.50" y1="2409.50" x2="657.50" y2="2404.00" stroke="#000" stroke-width="1"/>
<line x1="789.50" y1="2409.50" x2="789.50" y2="2404.00" stroke="#000" stroke-width="1"/>
<line x1="921.50" y1="2409.50" x2="921.50" y2="2404.00" stroke="#000" stroke-width="1"/>
<line x1="1052.50" y1="2409.50" x2="1052.50" y2="2404.00" stroke="#000" stroke-width="1"/>
<line x1="1184.50" y1="2409.50" x2="1184.50" y2="2404.00" stroke="#000" stroke-width="1"/>
<text transform="translate(546.63,2413.57) scale(0.6600,1)" font-family='"Liberation Sans", Arial, Helvetica, sans-serif' font-weight="400" font-size="20.50" fill="#111" letter-spacing="4.50">0</text>
<text transform="translate(546.63,2352.53) scale(0.6600,1)" font-family='"Liberation Sans", Arial, Helvetica, sans-serif' font-weight="400" font-size="20.50" fill="#111" letter-spacing="4.50">5</text>
<text transform="translate(536.15,2291.68) scale(0.6600,1)" font-family='"Liberation Sans", Arial, Helvetica, sans-serif' font-weight="400" font-size="20.50" fill="#111" letter-spacing="4.50">10</text>
<text transform="translate(536.15,2230.64) scale(0.6600,1)" font-family='"Liberation Sans", Arial, Helvetica, sans-serif' font-weight="400" font-size="20.50" fill="#111" letter-spacing="4.50">15</text>
<text transform="translate(536.15,2169.79) scale(0.6600,1)" font-family='"Liberation Sans", Arial, Helvetica, sans-serif' font-weight="400" font-size="20.50" fill="#111" letter-spacing="4.50">20</text>
<text transform="translate(536.15,2108.85) scale(0.6600,1)" font-family='"Liberation Sans", Arial, Helvetica, sans-serif' font-weight="400" font-size="20.50" fill="#111" letter-spacing="4.50">25</text>
<text transform="translate(536.15,2047.91) scale(0.6600,1)" font-family='"Liberation Sans", Arial, Helvetica, sans-serif' font-weight="400" font-size="20.50" fill="#111" letter-spacing="4.50">30</text>
<text transform="translate(536.15,1986.96) scale(0.6600,1)" font-family='"Liberation Sans", Arial, Helvetica, sans-serif' font-weight="400" font-size="20.50" fill="#111" letter-spacing="4.50">35</text>
<text transform="translate(536.15,1926.02) scale(0.6600,1)" font-family='"Liberation Sans", Arial, Helvetica, sans-serif' font-weight="400" font-size="20.50" fill="#111" letter-spacing="4.50">40</text>
<text transform="translate(536.15,1864.97) scale(0.6600,1)" font-family='"Liberation Sans", Arial, Helvetica, sans-serif' font-weight="400" font-size="20.50" fill="#111" letter-spacing="4.50">45</text>
<text transform="translate(587.35,2437.55) scale(0.6600,1)" font-family='"Liberation Sans", Arial, Helvetica, sans-serif' font-weight="400" font-size="20.50" fill="#111" letter-spacing="2.50">0</text>
<text transform="translate(719.05,2437.34) scale(0.6600,1)" font-family='"Liberation Sans", Arial, Helvetica, sans-serif' font-weight="400" font-size="20.50" fill="#111" letter-spacing="2.50">5</text>
<text transform="translate(845.93,2437.55) scale(0.6600,1)" font-family='"Liberation Sans", Arial, Helvetica, sans-serif' font-weight="400" font-size="20.50" fill="#111" letter-spacing="2.50">10</text>
<text transform="translate(977.63,2437.34) scale(0.6600,1)" font-family='"Liberation Sans", Arial, Helvetica, sans-serif' font-weight="400" font-size="20.50" fill="#111" letter-spacing="2.50">15</text>
<text transform="translate(1109.50,2437.55) scale(0.6600,1)" font-family='"Liberation Sans", Arial, Helvetica, sans-serif' font-weight="400" font-size="20.50" fill="#111" letter-spacing="2.50">20</text>
<path d="M593.98,2366.01L642.70,2213.69M647.42,2201.61L694.62,2100.09M699.18,2087.96L748.22,1919.34M751.54,1919.42L801.22,2129.08M806.55,2140.65L851.57,2202.25M861.66,2209.24L980.84,2242.26M992.57,2247.51L1113.33,2324.89" fill="none" stroke="#000" stroke-width="1.1"/>
<path d="M593.11,2367.01L643.57,2121.59M649.77,2114.12L692.27,2096.78M701.58,2091.17L745.82,2054.23M753.86,2046.74L798.90,1999.96M804.37,2001.25L853.75,2157.75M860.72,2164.40L981.78,2196.30M992.12,2199.95L1113.78,2254.55" fill="none" stroke="#f00" stroke-width="1.1"/>
<rect x="587.75" y="2366.95" width="8.5" height="10.5" fill="#000"/>
<rect x="640.43" y="2202.25" width="8.5" height="10.5" fill="#000"/>
<rect x="693.11" y="2088.95" width="8.5" height="10.5" fill="#000"/>
<rect x="745.79" y="1907.85" width="8.5" height="10.5" fill="#000"/>
<rect x="798.47" y="2130.15" width="8.5" height="10.5" fill="#000"/>
<rect x="851.15" y="2202.25" width="8.5" height="10.5" fill="#000"/>
<rect x="982.85" y="2238.75" width="8.5" height="10.5" fill="#000"/>
<rect x="1114.55" y="2323.15" width="8.5" height="10.5" fill="#000"/>
<ellipse cx="592.00" cy="2372.40" rx="4.75" ry="5.75" fill="#f00"/>
<ellipse cx="644.68" cy="2116.20" rx="4.75" ry="5.75" fill="#f00"/>
<ellipse cx="697.36" cy="2094.70" rx="4.75" ry="5.75" fill="#f00"/>
<ellipse cx="750.04" cy="2050.70" rx="4.75" ry="5.75" fill="#f00"/>
<ellipse cx="802.72" cy="1996.00" rx="4.75" ry="5.75" fill="#f00"/>
<ellipse cx="855.40" cy="2163.00" rx="4.75" ry="5.75" fill="#f00"/>
<ellipse cx="987.10" cy="2197.70" rx="4.75" ry="5.75" fill="#f00"/>
<ellipse cx="1118.80" cy="2256.80" rx="4.75" ry="5.75" fill="#f00"/>
<rect x="1022.95" y="1844.95" width="161.80" height="72.70" fill="none" stroke="#000" stroke-width="1.5"/>
<line x1="1034.10" y1="1865.50" x2="1090.10" y2="1865.50" stroke="#000" stroke-width="1.1"/>
<rect x="1056.15" y="1859.70" width="11.3" height="12.2" fill="#000"/>
<text transform="translate(1095.50,1872.93) scale(0.8263,1)" font-family='"Liberation Sans", Arial, Helvetica, sans-serif' font-weight="400" font-size="26.90" fill="#111">Strain A</text>
<line x1="1034.10" y1="1897.50" x2="1090.10" y2="1897.50" stroke="#f00" stroke-width="1.1"/>
<ellipse cx="1061.80" cy="1897.60" rx="6.4" ry="7.85" fill="#f00"/>
<text transform="translate(1095.50,1904.54) scale(0.8473,1)" font-family='"Liberation Sans", Arial, Helvetica, sans-serif' font-weight="400" font-size="26.20" fill="#111">Strain B</text>
<text transform="translate(764.99,2478.68) scale(0.7734,1)" font-family='"Liberation Serif", "Times New Roman", Times, serif' font-weight="700" font-size="22.41" fill="#000" letter-spacing="2.69">Inoculation amount/mL</text>
<text transform="translate(518.90,2310.29) rotate(-90) scale(1.2242,1)" font-family='"Liberation Serif", "Times New Roman", Times, serif' font-weight="700" font-size="21.22" fill="#000">The removal rate of COD/%</text>
<text transform="translate(455.40,1880.41) scale(1.2811,1)" font-family='"Liberation Sans", Arial, Helvetica, sans-serif' font-weight="700" font-size="58.55" fill="#000" stroke="#000" stroke-width="3.00" stroke-linejoin="round">e</text>
<rect x="1496.4" y="742.5" width="11.9" height="17.1" fill="none" stroke="#555" stroke-width="1"/>
</svg></body></html>
